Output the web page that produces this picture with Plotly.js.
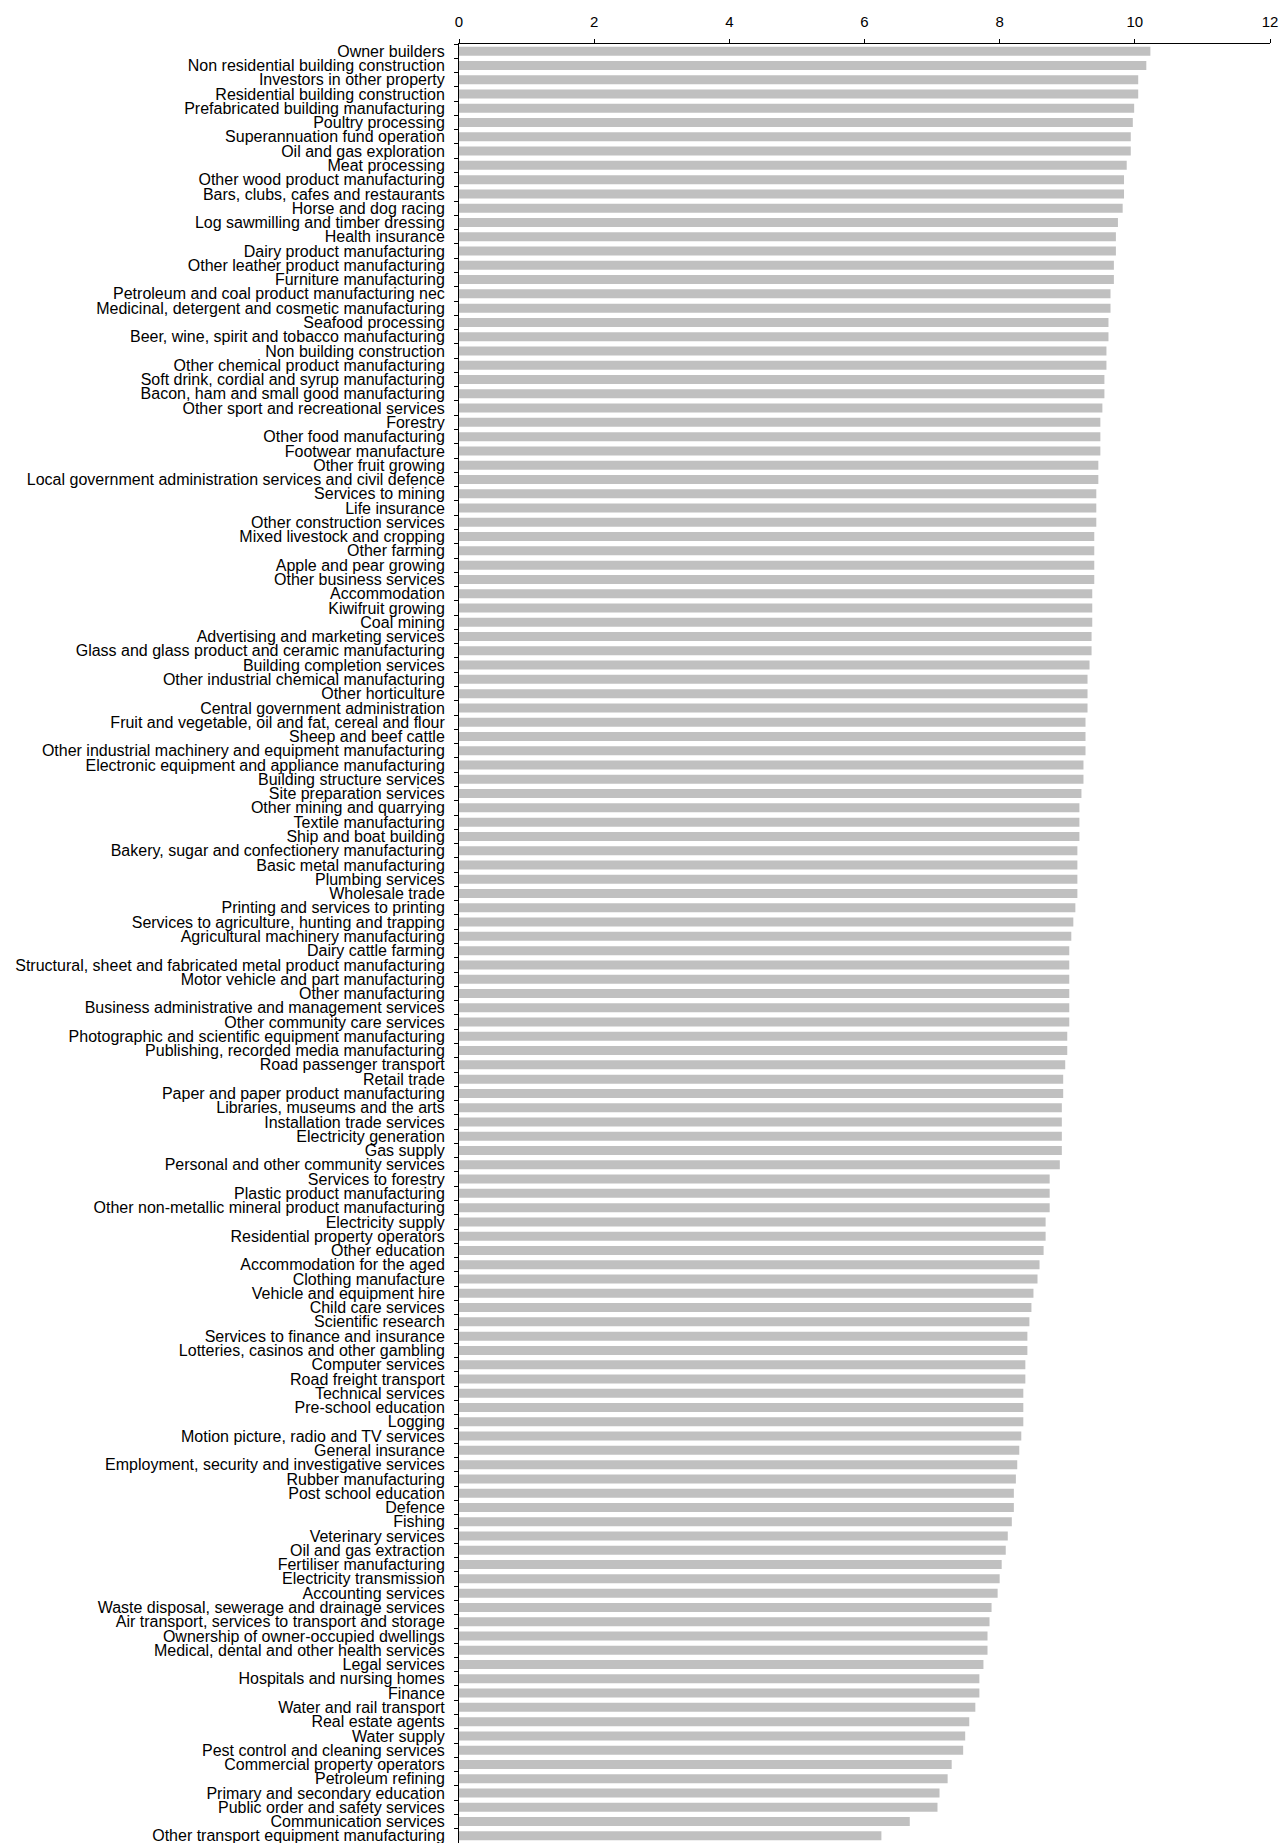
<!DOCTYPE html>
<html>
<head>
<meta charset="utf-8">
<script src="https://cdn.plot.ly/plotly-3.0.1.min.js"></script>
<style>
html,body{margin:0;padding:0;background:#fff;}
#chart{width:1281px;height:1843px;}
</style>
</head>
<body>
<div id="chart"></div>
<script>
const industries = [
"Owner builders",
"Non residential building construction",
"Investors in other property",
"Residential building construction",
"Prefabricated building manufacturing",
"Poultry processing",
"Superannuation fund operation",
"Oil and gas exploration",
"Meat processing",
"Other wood product manufacturing",
"Bars, clubs, cafes and restaurants",
"Horse and dog racing",
"Log sawmilling and timber dressing",
"Health insurance",
"Dairy product manufacturing",
"Other leather product manufacturing",
"Furniture manufacturing",
"Petroleum and coal product manufacturing nec",
"Medicinal, detergent and cosmetic manufacturing",
"Seafood processing",
"Beer, wine, spirit and tobacco manufacturing",
"Non building construction",
"Other chemical product manufacturing",
"Soft drink, cordial and syrup manufacturing",
"Bacon, ham and small good manufacturing",
"Other sport and recreational services",
"Forestry",
"Other food manufacturing",
"Footwear manufacture",
"Other fruit growing",
"Local government administration services and civil defence",
"Services to mining",
"Life insurance",
"Other construction services",
"Mixed livestock and cropping",
"Other farming",
"Apple and pear growing",
"Other business services",
"Accommodation",
"Kiwifruit growing",
"Coal mining",
"Advertising and marketing services",
"Glass and glass product and ceramic manufacturing",
"Building completion services",
"Other industrial chemical manufacturing",
"Other horticulture",
"Central government administration",
"Fruit and vegetable, oil and fat, cereal and flour",
"Sheep and beef cattle",
"Other industrial machinery and equipment manufacturing",
"Electronic equipment and appliance manufacturing",
"Building structure services",
"Site preparation services",
"Other mining and quarrying",
"Textile manufacturing",
"Ship and boat building",
"Bakery, sugar and confectionery manufacturing",
"Basic metal manufacturing",
"Plumbing services",
"Wholesale trade",
"Printing and services to printing",
"Services to agriculture, hunting and trapping",
"Agricultural machinery manufacturing",
"Dairy cattle farming",
"Structural, sheet and fabricated metal product manufacturing",
"Motor vehicle and part manufacturing",
"Other manufacturing",
"Business administrative and management services",
"Other community care services",
"Photographic and scientific equipment manufacturing",
"Publishing, recorded media manufacturing",
"Road passenger transport",
"Retail trade",
"Paper and paper product manufacturing",
"Libraries, museums and the arts",
"Installation trade services",
"Electricity generation",
"Gas supply",
"Personal and other community services",
"Services to forestry",
"Plastic product manufacturing",
"Other non-metallic mineral product manufacturing",
"Electricity supply",
"Residential property operators",
"Other education",
"Accommodation for the aged",
"Clothing manufacture",
"Vehicle and equipment hire",
"Child care services",
"Scientific research",
"Services to finance and insurance",
"Lotteries, casinos and other gambling",
"Computer services",
"Road freight transport",
"Technical services",
"Pre-school education",
"Logging",
"Motion picture, radio and TV services",
"General insurance",
"Employment, security and investigative services",
"Rubber manufacturing",
"Post school education",
"Defence",
"Fishing",
"Veterinary services",
"Oil and gas extraction",
"Fertiliser manufacturing",
"Electricity transmission",
"Accounting services",
"Waste disposal, sewerage and drainage services",
"Air transport, services to transport and storage",
"Ownership of owner-occupied dwellings",
"Medical, dental and other health services",
"Legal services",
"Hospitals and nursing homes",
"Finance",
"Water and rail transport",
"Real estate agents",
"Water supply",
"Pest control and cleaning services",
"Commercial property operators",
"Petroleum refining",
"Primary and secondary education",
"Public order and safety services",
"Communication services",
"Other transport equipment manufacturing"
];

const values = [
10.23, 10.17, 10.05, 10.05, 9.99, 9.97, 9.94, 9.94, 9.88, 9.84,
9.84, 9.82, 9.75, 9.72, 9.72, 9.69, 9.69, 9.64, 9.64, 9.61,
9.61, 9.58, 9.58, 9.55, 9.55, 9.52, 9.49, 9.49, 9.49, 9.46,
9.46, 9.43, 9.43, 9.43, 9.40, 9.40, 9.40, 9.40, 9.37, 9.37,
9.37, 9.36, 9.36, 9.33, 9.30, 9.30, 9.30, 9.27, 9.27, 9.27,
9.24, 9.24, 9.21, 9.18, 9.18, 9.18, 9.15, 9.15, 9.15, 9.15,
9.12, 9.09, 9.06, 9.03, 9.03, 9.03, 9.03, 9.03, 9.03, 9.00,
9.00, 8.97, 8.94, 8.94, 8.92, 8.92, 8.92, 8.92, 8.89, 8.74,
8.74, 8.74, 8.68, 8.68, 8.65, 8.59, 8.56, 8.50, 8.47, 8.44,
8.41, 8.41, 8.38, 8.38, 8.35, 8.35, 8.35, 8.32, 8.29, 8.26,
8.24, 8.21, 8.21, 8.18, 8.12, 8.09, 8.03, 8.00, 7.97, 7.88,
7.85, 7.82, 7.82, 7.76, 7.70, 7.70, 7.64, 7.55, 7.49, 7.46,
7.29, 7.23, 7.11, 7.08, 6.67, 6.25
];

const xTickValues = [0, 2, 4, 6, 8, 10, 12];
const xTickLabels = ["0", "2", "4", "6", "8", "10", "12"];

const fontFamily = "Arial, 'Liberation Sans', sans-serif";

const trace = {
  type: "bar",
  orientation: "h",
  x: values,
  y: industries,
  marker: {color: "#c0c0c0", line: {width: 0}},
  hoverinfo: "x+y"
};

const layout = {
  width: 1281,
  height: 1843,
  margin: {l: 459, r: 11, t: 44, b: 0, pad: 0},
  paper_bgcolor: "#ffffff",
  plot_bgcolor: "#ffffff",
  showlegend: false,
  bargap: 0.37,
  font: {family: fontFamily, color: "#000000", size: 16},
  xaxis: {
    side: "top",
    range: [0, 12],
    tickmode: "array",
    tickvals: xTickValues,
    ticktext: xTickLabels,
    ticks: "outside",
    ticklen: 4,
    tickwidth: 1,
    tickcolor: "#000000",
    showline: true,
    linecolor: "#000000",
    linewidth: 1,
    showgrid: false,
    zeroline: false,
    tickfont: {family: fontFamily, size: 15, color: "#000000"},
    ticklabelstandoff: 6,
    fixedrange: true
  },
  yaxis: {
    type: "category",
    autorange: "reversed",
    tickmode: "linear",
    tick0: 0,
    dtick: 1,
    ticks: "outside",
    tickson: "boundaries",
    ticklen: 4,
    tickwidth: 1,
    tickcolor: "#000000",
    showline: true,
    linecolor: "#000000",
    linewidth: 1,
    showgrid: false,
    zeroline: false,
    tickfont: {family: fontFamily, size: 16, color: "#000000"},
    ticklabelstandoff: 10,
    automargin: false,
    fixedrange: true
  }
};

Plotly.newPlot("chart", [trace], layout, {displayModeBar: false, staticPlot: true});
</script>
</body>
</html>
